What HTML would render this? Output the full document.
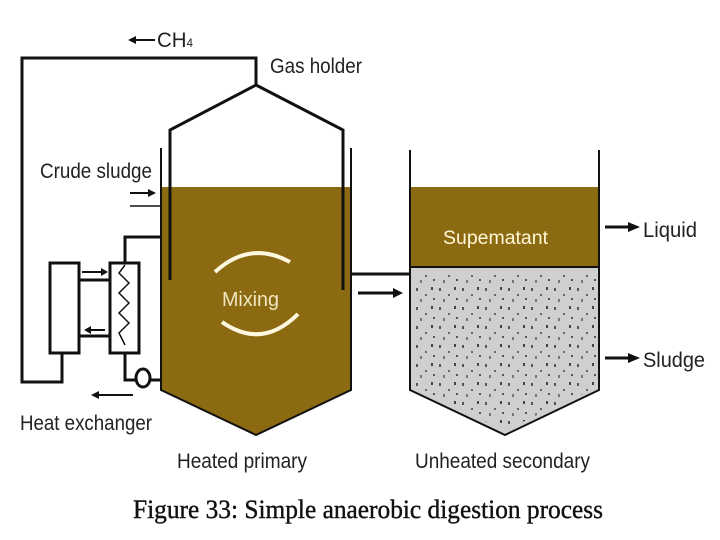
<!DOCTYPE html><html><head><style>body{margin:0;background:#fff}svg{display:block}</style></head><body>
<svg width="720" height="540" viewBox="0 0 720 540" xmlns="http://www.w3.org/2000/svg" font-family="Liberation Sans, sans-serif">
<defs><pattern id="sp" width="23" height="19" patternUnits="userSpaceOnUse">
<rect x="2" y="3" width="2" height="3" fill="#555"/><rect x="11" y="9" width="2" height="2" fill="#666"/><rect x="17" y="2" width="2" height="3" fill="#444"/><rect x="6" y="14" width="2" height="3" fill="#777"/><rect x="19" y="13" width="2" height="2" fill="#555"/></pattern></defs>
<polygon points="161,187 351,187 351,390 256,435 161,390" fill="#8c6a12"/>
<polygon points="410,187 599,187 599,267 410,267" fill="#8c6a12"/>
<polygon points="410,267 599,267 599,390 505,435 410,390" fill="#cfcfcf"/>
<polygon points="414,275 596,275 596,388 505,430 414,388" fill="url(#sp)"/>
<g fill="none" stroke="#111" stroke-width="3">
<polyline points="161,148 161,390 256,435 351,390 351,148" stroke-width="2"/>
<polyline points="170,280 170,130 256,85 343,130 343,290"/>
<polyline points="256,85 256,58 22,58 22,382 62,382 62,352"/>
<polyline points="410,150 410,390 505,435 599,390 599,150" stroke-width="2"/>
<line x1="410" y1="267" x2="599" y2="267" stroke-width="2"/>
<line x1="352" y1="274" x2="410" y2="274"/>
<rect x="50" y="263" width="29" height="90"/>
<rect x="110" y="263" width="29" height="90"/>
<line x1="79" y1="280" x2="110" y2="280"/>
<line x1="79" y1="336" x2="110" y2="336"/>
<polyline points="125,263 125,237 161,237"/>
<polyline points="125,353 125,380 135,380"/>
<ellipse cx="143" cy="378" rx="7" ry="9"/>
<line x1="150" y1="380" x2="161" y2="380"/>
<polyline points="125,265 119,273 129,283 119,293 129,303 119,313 129,323 119,333 125,345" stroke-width="1.5"/>
<line x1="130" y1="206" x2="161" y2="206" stroke-width="1.5"/>
</g>
<g stroke="#111" stroke-width="2">
<line x1="130" y1="193" x2="150" y2="193"/><line x1="135" y1="40" x2="155" y2="40"/>
<line x1="98" y1="395" x2="133" y2="395"/><line x1="82" y1="272" x2="102" y2="272"/><line x1="90" y1="330" x2="105" y2="330"/>
<line x1="358" y1="293" x2="395" y2="293" stroke-width="3"/>
<line x1="605" y1="227" x2="630" y2="227" stroke-width="3"/>
<line x1="605" y1="358" x2="630" y2="358" stroke-width="3"/>
</g>
<g fill="#111">
<polygon points="156,193 148,189 148,197"/><polygon points="128,40 136,36 136,44"/>
<polygon points="91,395 99,391 99,399"/><polygon points="108,272 101,268 101,276"/><polygon points="84,330 91,326 91,334"/>
<polygon points="403,293 393,288 393,298"/><polygon points="640,227 628,222 628,232"/><polygon points="640,358 628,353 628,363"/>
</g>
<g fill="none" stroke="#fff8e0" stroke-width="4">
<path d="M215,272 Q250,240 290,262"/><path d="M222,322 Q262,350 298,314"/>
</g>
<g font-size="21" fill="#222" lengthAdjust="spacingAndGlyphs">
<text x="157" y="47" textLength="36" lengthAdjust="spacingAndGlyphs">CH<tspan font-size="12">4</tspan></text>
<text x="270" y="73" textLength="92" lengthAdjust="spacingAndGlyphs">Gas holder</text>
<text x="40" y="178" textLength="112" lengthAdjust="spacingAndGlyphs">Crude sludge</text>
<text x="20" y="430" textLength="132" lengthAdjust="spacingAndGlyphs">Heat exchanger</text>
<text x="177" y="468" textLength="130" lengthAdjust="spacingAndGlyphs">Heated primary</text>
<text x="415" y="468" textLength="175" lengthAdjust="spacingAndGlyphs">Unheated secondary</text>
<text x="643" y="237" textLength="54" lengthAdjust="spacingAndGlyphs">Liquid</text>
<text x="643" y="367" textLength="62" lengthAdjust="spacingAndGlyphs">Sludge</text>
<text x="222" y="306" fill="#f0e6c0" font-size="20" textLength="57" lengthAdjust="spacingAndGlyphs">Mixing</text>
<text x="443" y="244" fill="#fff8d8" font-size="19" textLength="105" lengthAdjust="spacingAndGlyphs">Supematant</text>
</g>
<text x="133" y="518" textLength="470" lengthAdjust="spacingAndGlyphs" font-family="Liberation Serif, serif" font-size="26" fill="#111" stroke="#111" stroke-width="0.4">Figure 33: Simple anaerobic digestion process</text>
</svg></body></html>
